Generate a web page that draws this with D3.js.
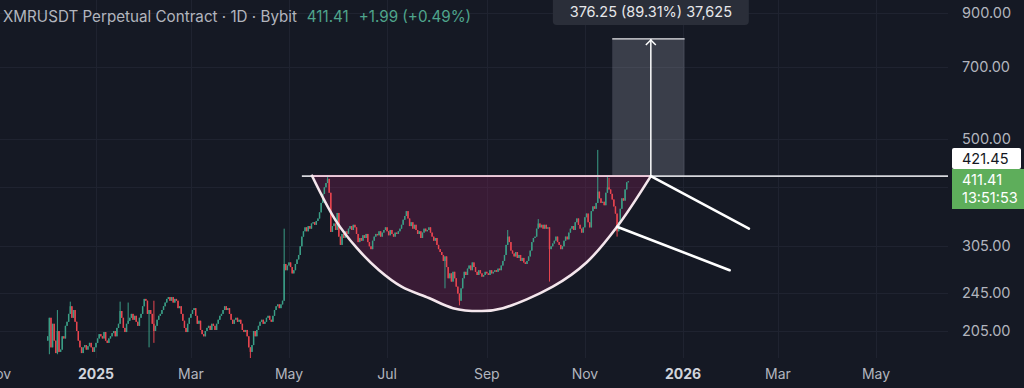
<!DOCTYPE html>
<html>
<head>
<meta charset="utf-8">
<script src="https://cdn.jsdelivr.net/npm/d3@7"></script>
<style>
html, body { margin: 0; padding: 0; background: #151924; }
svg { display: block; font-family: Inter, "Noto Sans", sans-serif; }
</style>
</head>
<body>
<svg id="chart" width="1024" height="388"></svg>
<script>
// daily closes, XMRUSDT 1D, from 2024-12-02
var dec24 = [200,218,190,212,196,185,205,186,188,200,198,210,214,222,230,218,226,214,205,196,190,185,190,192,188,191,194,190,186,190];
var jan25 = [194,198,202,200,198,204,196,194,198,200,203,205,200,208,212,225,218,208,204,212,215,218,222,216,220,214,210,218,222,230,238];
var feb25 = [236,222,226,222,212,205,210,216,220,222,226,230,234,238,240,236,240,234,238,236,228,230,222,215,208,204,212,218];
var mar25 = [222,226,228,220,212,215,206,202,200,205,208,210,206,212,210,206,212,216,220,222,226,230,226,228,222,216,212,216,218,214,216];
var apr25 = [212,206,204,206,200,190,186,192,205,200,206,210,214,216,212,214,218,220,216,214,220,226,230,232,228,232,236,280,272,278];
var may25 = [282,276,268,272,280,286,292,304,318,326,332,326,334,330,338,340,336,342,346,356,372,388,400,408,416,390,325,334,338,328,355];
var jun25 = [318,306,322,316,326,322,330,334,328,336,332,322,310,316,312,320,316,322,310,304,300,312,318,322,320,326,318,324,328,332];
var jul25 = [326,320,328,322,318,324,322,326,330,336,344,350,358,346,334,340,330,336,328,322,326,316,324,330,326,328,332,324,318,312,316];
var aug25 = [306,300,296,292,284,290,276,262,268,258,270,262,252,244,236,250,262,270,266,274,278,272,282,276,270,266,272,268,264,266,270];
var sep25 = [268,266,272,268,270,272,270,274,272,278,284,292,306,318,310,298,294,290,296,288,292,284,288,282,280,284,290,298,310,316];
var oct25 = [318,330,338,332,336,330,336,330,332,300,304,308,312,318,310,306,300,304,312,318,314,324,330,334,328,340,346,336,330,324,332];
var nov25 = [348,354,340,332,358,366,362,372,392,380,372,374,368,390,400,396,388,378,366,354,326,340,362,380,376,396,409.42,411.41];
var firstOpen = 196;

// wicks that stand out past the bodies
var wickHigh = [["2024-12-08", 226], ["2024-12-16", 235], ["2025-01-16", 235], ["2025-01-21", 234], ["2025-02-06", 236],
                ["2025-04-28", 330], ["2025-05-25", 423], ["2025-09-14", 328], ["2025-10-03", 345],
                ["2025-11-09", 476], ["2025-11-15", 421], ["2025-11-16", 418]];
var wickLow = [["2024-12-03", 184], ["2024-12-08", 184], ["2025-02-03", 190], ["2025-02-06", 194], ["2025-04-07", 180],
               ["2025-08-06", 250], ["2025-08-15", 231], ["2025-10-10", 258], ["2025-11-21", 318]];

var priceTicks = [205, 245, 305, 500, 700, 900];
var gridPrices = [205, 245, 305, 400, 500, 700, 900];
var monthTicks = ["2024-11-01", "2025-01-01", "2025-03-01", "2025-05-01", "2025-07-01", "2025-09-01", "2025-11-01", "2026-01-01", "2026-03-01", "2026-05-01"];
var monthLabels = ["Nov", "2025", "Mar", "May", "Jul", "Sep", "Nov", "2026", "Mar", "May"];

// drawings
var rayStart = "2025-05-09", rayLevel = 421.45;
var cupPoints = [["2025-05-15", 424], ["2025-05-30", 343], ["2025-06-12", 302], ["2025-06-26", 272], ["2025-07-10", 252],
                 ["2025-07-27", 239], ["2025-08-11", 228], ["2025-08-29", 225], ["2025-09-11", 228], ["2025-10-12", 252],
                 ["2025-11-02", 282], ["2025-11-21", 333], ["2025-12-12", 421.45]];
var handleUpper = [["2025-12-12", 421.45], ["2026-02-11", 330]];
var handleLower = [["2025-11-21", 333], ["2026-01-30", 272]];
var targetDates = ["2025-11-18", "2025-12-12", "2026-01-02"];
var targetMove = 376.25, targetPct = 89.31, targetTicks = "37,625";
var lastPrice = 411.41, lastChange = 1.99, lastChangePct = 0.49, countdown = "13:51:53";

var parse = d3.utcParse("%Y-%m-%d");
var svg = d3.select("#chart");
var plotRight = 948;

var x = d3.scaleUtc().domain([parse("2025-01-01"), parse("2026-01-01")]).range([96, 683]);
var y = d3.scaleLog().domain([205, 900]).range([331, 13]);
var dayW = x(parse("2025-01-02")) - x(parse("2025-01-01"));

// build candles
var closes = [].concat(dec24, jan25, feb25, mar25, apr25, may25, jun25, jul25, aug25, sep25, oct25, nov25);
var hiMap = {}, loMap = {};
wickHigh.forEach(function (w) { hiMap[w[0]] = w[1]; });
wickLow.forEach(function (w) { loMap[w[0]] = w[1]; });
var fmt = d3.utcFormat("%Y-%m-%d");
var candles = [];
var start = parse("2024-12-02");
for (var i = 0; i < closes.length; i++) {
    var d = d3.utcDay.offset(start, i);
    var o = i === 0 ? firstOpen : closes[i - 1];
    var c = closes[i];
    var key = fmt(d);
    candles.push({
        date: d, open: o, close: c,
        high: Math.max(o, c, hiMap[key] || 0),
        low: Math.min(o, c, loMap[key] || Infinity)
    });
}

svg.append("rect").attr("width", 1024).attr("height", 388).attr("fill", "#151924");

svg.append("clipPath").attr("id", "plot").append("rect")
    .attr("x", 0).attr("y", 0).attr("width", plotRight).attr("height", 358);
var plot = svg.append("g").attr("clip-path", "url(#plot)");

// grid
plot.selectAll(".vgrid").data(monthTicks).enter().append("line")
    .attr("x1", function (d) { return Math.round(x(parse(d))) + 0.5; })
    .attr("x2", function (d) { return Math.round(x(parse(d))) + 0.5; })
    .attr("y1", 0).attr("y2", 358)
    .attr("stroke", "#1f2330").attr("stroke-width", 1);
plot.selectAll(".hgrid").data(gridPrices).enter().append("line")
    .attr("x1", 0).attr("x2", plotRight)
    .attr("y1", function (d) { return Math.round(y(d)) + 0.5; })
    .attr("y2", function (d) { return Math.round(y(d)) + 0.5; })
    .attr("stroke", "#1f2330").attr("stroke-width", 1);

// cup fill
var cupLine = d3.line()
    .x(function (d) { return x(parse(d[0])); })
    .y(function (d) { return y(d[1]); })
    .curve(d3.curveCatmullRom.alpha(0.5));
plot.append("path")
    .attr("d", cupLine(cupPoints) + "Z")
    .attr("fill", "rgba(130, 32, 88, 0.33)");

// target box
var tx0 = x(parse(targetDates[0])), tx1 = x(parse(targetDates[2])), txa = x(parse(targetDates[1]));
var tTop = y(rayLevel + targetMove), tBase = y(rayLevel);
plot.append("rect")
    .attr("x", tx0).attr("y", tTop).attr("width", tx1 - tx0).attr("height", tBase - tTop)
    .attr("fill", "rgba(190, 195, 210, 0.22)");

// candles
var up = "#3a9e86", down = "#e8454f";
var cg = plot.append("g");
cg.selectAll("line").data(candles).enter().append("line")
    .attr("x1", function (d) { return x(d.date); })
    .attr("x2", function (d) { return x(d.date); })
    .attr("y1", function (d) { return y(d.high); })
    .attr("y2", function (d) { return y(d.low); })
    .attr("stroke", function (d) { return d.close >= d.open ? up : down; })
    .attr("stroke-width", 1);
cg.selectAll("rect").data(candles).enter().append("rect")
    .attr("x", function (d) { return x(d.date) - dayW * 0.45; })
    .attr("width", dayW * 0.9)
    .attr("y", function (d) { return y(Math.max(d.open, d.close)); })
    .attr("height", function (d) { return Math.max(1, Math.abs(y(d.open) - y(d.close))); })
    .attr("fill", function (d) { return d.close >= d.open ? up : down; });

// horizontal ray
plot.append("line")
    .attr("x1", x(parse(rayStart))).attr("x2", plotRight)
    .attr("y1", y(rayLevel)).attr("y2", y(rayLevel))
    .attr("stroke", "#d6d7dc").attr("stroke-width", 1.6);
plot.append("line")
    .attr("x1", x(parse(cupPoints[0][0]))).attr("x2", x(parse(cupPoints[cupPoints.length - 1][0])))
    .attr("y1", y(rayLevel)).attr("y2", y(rayLevel))
    .attr("stroke", "#efc9da").attr("stroke-width", 1.6);

// target top line and arrow
plot.append("line")
    .attr("x1", tx0).attr("x2", tx1).attr("y1", tTop).attr("y2", tTop)
    .attr("stroke", "#e6e6ea").attr("stroke-width", 1.2);
plot.append("line")
    .attr("x1", txa).attr("x2", txa).attr("y1", tBase).attr("y2", tTop)
    .attr("stroke", "#ffffff").attr("stroke-width", 1.5);
plot.append("path")
    .attr("d", "M" + (txa - 5) + "," + (tTop + 6) + "L" + txa + "," + (tTop + 1) + "L" + (txa + 5) + "," + (tTop + 6))
    .attr("fill", "none").attr("stroke", "#ffffff").attr("stroke-width", 1.5);

// cup curve
plot.append("path")
    .attr("d", cupLine(cupPoints))
    .attr("fill", "none").attr("stroke", "#f4e6ec").attr("stroke-width", 2.6);

// handle lines
var straight = d3.line()
    .x(function (d) { return x(parse(d[0])); })
    .y(function (d) { return y(d[1]); });
[handleUpper, handleLower].forEach(function (h) {
    plot.append("path").attr("d", straight(h))
        .attr("fill", "none").attr("stroke", "#ffffff").attr("stroke-width", 2.6)
        .attr("stroke-linecap", "round");
});

// measurement label
var labelText = targetMove.toFixed(2) + " (" + targetPct.toFixed(2) + "%) " + targetTicks;
svg.append("rect")
    .attr("x", txa - 98).attr("y", -4).attr("width", 196).attr("height", 29).attr("rx", 4)
    .attr("fill", "#2a2e39");
svg.append("text")
    .attr("x", txa).attr("y", 17).attr("text-anchor", "middle")
    .attr("font-size", 14.5).attr("fill", "#e6e7ea")
    .text(labelText);

// price axis labels
svg.selectAll(".ptick").data(priceTicks).enter().append("text")
    .attr("x", 962).attr("y", function (d) { return y(d) + 5; })
    .attr("font-size", 14.5).attr("fill", "#b2b5be")
    .text(function (d) { return d.toFixed(2); });

// ray level label
svg.append("rect").attr("x", 952).attr("y", 148).attr("width", 69).attr("height", 21)
    .attr("rx", 2).attr("fill", "#ffffff");
svg.append("text").attr("x", 962).attr("y", 164)
    .attr("font-size", 14.5).attr("fill", "#131722").text(rayLevel.toFixed(2));
// last price label
svg.append("rect").attr("x", 952).attr("y", 169).attr("width", 72).attr("height", 40)
    .attr("fill", "#5eae5b");
svg.append("text").attr("x", 962).attr("y", 185)
    .attr("font-size", 14.5).attr("fill", "#ffffff").text(lastPrice.toFixed(2));
svg.append("text").attr("x", 962).attr("y", 203)
    .attr("font-size", 14.5).attr("fill", "#ffffff").text(countdown);

// time axis
svg.selectAll(".ttick").data(monthTicks).enter().append("text")
    .attr("x", function (d) { return x(parse(d)); })
    .attr("y", 379).attr("text-anchor", "middle")
    .attr("font-size", 14)
    .attr("font-weight", function (d, i) { return monthLabels[i].length === 4 ? 700 : 400; })
    .attr("fill", function (d, i) { return monthLabels[i].length === 4 ? "#d1d4dc" : "#b2b5be"; })
    .text(function (d, i) { return monthLabels[i]; });

// header
var head = svg.append("text").attr("x", 3).attr("y", 22).attr("font-size", 15.2);
head.append("tspan").attr("fill", "#b2b5be").text("XMRUSDT Perpetual Contract · 1D · Bybit");
head.append("tspan").attr("dx", 10).attr("fill", "#4fa58c").text(lastPrice.toFixed(2));
head.append("tspan").attr("dx", 10).attr("fill", "#4fa58c")
    .text("+" + lastChange.toFixed(2) + " (+" + lastChangePct.toFixed(2) + "%)");
</script>
</body>
</html>
